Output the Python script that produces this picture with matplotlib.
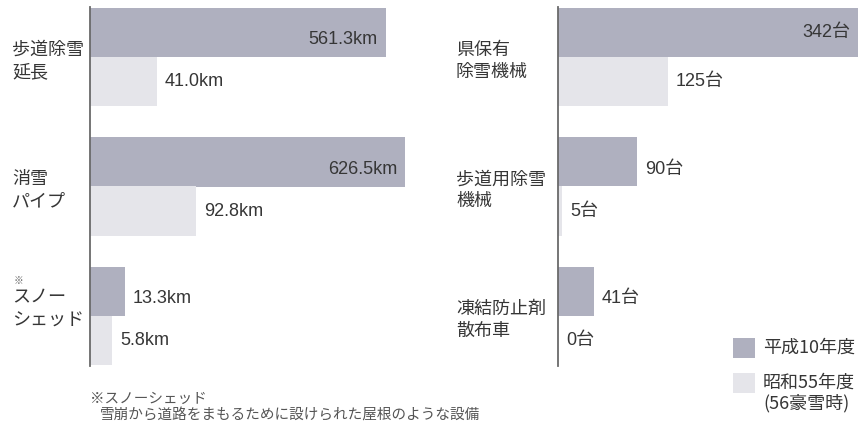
import numpy as np
import matplotlib.pyplot as plt
from matplotlib.patches import Rectangle
from matplotlib.transforms import blended_transform_factory

plt.rcParams['font.family'] = ['Noto Sans CJK JP', 'DejaVu Sans']

# --- データ ---
road_labels = ['歩道除雪\n延長', '消雪\nパイプ', 'スノー\nシェッド']
road_note = [False, False, True]
road_h10 = [561.3, 626.5, 13.3]
road_s55 = [41.0, 92.8, 5.8]
road_unit = 'km'

mach_labels = ['県保有\n除雪機械', '歩道用除雪\n機械', '凍結防止剤\n散布車']
mach_note = [False, False, False]
mach_h10 = [342, 90, 41]
mach_s55 = [125, 5, 0]
mach_unit = '台'

legend_labels = ['平成10年度', '昭和55年度\n(56豪雪時)']
footnote = ['※スノーシェッド', '雪崩から道路をまもるために設けられた屋根のような設備']

DARK = '#afb0bf'
LIGHT = '#e5e5ea'
TXT = '#363636'
W, H = 862, 425

fig = plt.figure(figsize=(W / 100, H / 100), dpi=100)
fig.patch.set_facecolor('white')


def px_axes(x0, x1, y0, y1):
    # ピクセル指定で軸を配置（y は上から）
    return fig.add_axes([x0 / W, 1 - y1 / H, (x1 - x0) / W, (y1 - y0) / H])


def fmt(v, unit):
    return (f'{v:.1f}' if unit == 'km' else f'{v:d}') + unit


def panel(ax, labels, notes, h10, s55, unit, label_x):
    g = np.arange(len(labels))
    bh = 0.38
    ax.barh(g - bh / 2, h10, height=bh, color=DARK, linewidth=0)
    ax.barh(g + bh / 2, s55, height=bh, color=LIGHT, linewidth=0)
    ax.set_ylim(2.39, -0.39)
    for s in ['top', 'right', 'bottom']:
        ax.spines[s].set_visible(False)
    ax.spines['left'].set_color('#6a6a6a')
    ax.spines['left'].set_linewidth(1.3)
    ax.set_xticks([])
    ax.set_yticks([])

    xmax = ax.get_xlim()[1]
    fwd = ax.xaxis.get_transform().transform
    vfont = ['Liberation Sans', 'Noto Sans CJK JP']
    for i in range(len(labels)):
        v = h10[i]
        inside = fwd(v) > 0.6 * fwd(xmax)
        dy = 0.0 if (inside and unit == '台') else 0.055
        if inside:
            ax.annotate(fmt(v, unit), (v, g[i] - bh / 2 + dy), xytext=(-8, 0),
                        textcoords='offset pixels', ha='right', va='center',
                        fontsize=13, color=TXT, family=vfont)
        else:
            ax.annotate(fmt(v, unit), (v, g[i] - bh / 2 + dy), xytext=(8, 0),
                        textcoords='offset pixels', ha='left', va='center',
                        fontsize=13, color=TXT, family=vfont)
        w = s55[i]
        ax.annotate(fmt(w, unit), (w, g[i] + bh / 2), xytext=(8, 0),
                    textcoords='offset pixels', ha='left', va='center',
                    fontsize=13, color=TXT, family=vfont)

    # 項目名
    tr = blended_transform_factory(fig.transFigure, ax.transData)
    for i, lab in enumerate(labels):
        if notes[i]:
            ax.text(label_x / W, g[i] - 0.05, lab, transform=tr, ha='left',
                    va='center', fontsize=13, color=TXT, linespacing=1.35)
            ax.text(label_x / W + 0.002, g[i] - 0.27, '※', transform=tr,
                    ha='left', va='center', fontsize=7, color='#666666')
        else:
            ax.text(label_x / W, g[i] + 0.03, lab, transform=tr, ha='left',
                    va='center', fontsize=13, color=TXT, linespacing=1.3)


# 左：道路関係（長さ）
ax1 = px_axes(90, 420, 7, 366)
p = 0.57
ax1.set_xscale('function', functions=(lambda x: np.sign(x) * np.abs(x) ** p,
                                      lambda x: np.sign(x) * np.abs(x) ** (1 / p)))
ax1.set_xlim(0, 680)
panel(ax1, road_labels, road_note, road_h10, road_s55, road_unit, 12)

# 右：除雪機械（台数）
ax2 = px_axes(558, 858, 7, 366)
ax2.set_xlim(0, 342)
panel(ax2, mach_labels, mach_note, mach_h10, mach_s55, mach_unit, 456)

# 凡例
for (y0, c), lab in zip([(338, DARK), (373, LIGHT)], legend_labels):
    fig.add_artist(Rectangle((733 / W, 1 - (y0 + 20) / H), 22 / W, 20 / H,
                             transform=fig.transFigure, color=c, lw=0))
    lines = lab.split('\n')
    fig.text(763 / W, 1 - (y0 + 10) / H, lines[0], ha='left',
             va='center', fontsize=13, color=TXT)
    if len(lines) > 1:
        fig.text(763 / W, 1 - (y0 + 30) / H, lines[1], ha='left',
                 va='center', fontsize=13, color=TXT)

# 注記
fig.text(90 / W, 1 - 399 / H, footnote[0], ha='left', va='center',
         fontsize=10.5, color='#555555')
fig.text(100 / W, 1 - 416 / H, footnote[1], ha='left', va='center',
         fontsize=10.5, color='#555555')

fig.savefig('out.png', dpi=100, facecolor='white')
